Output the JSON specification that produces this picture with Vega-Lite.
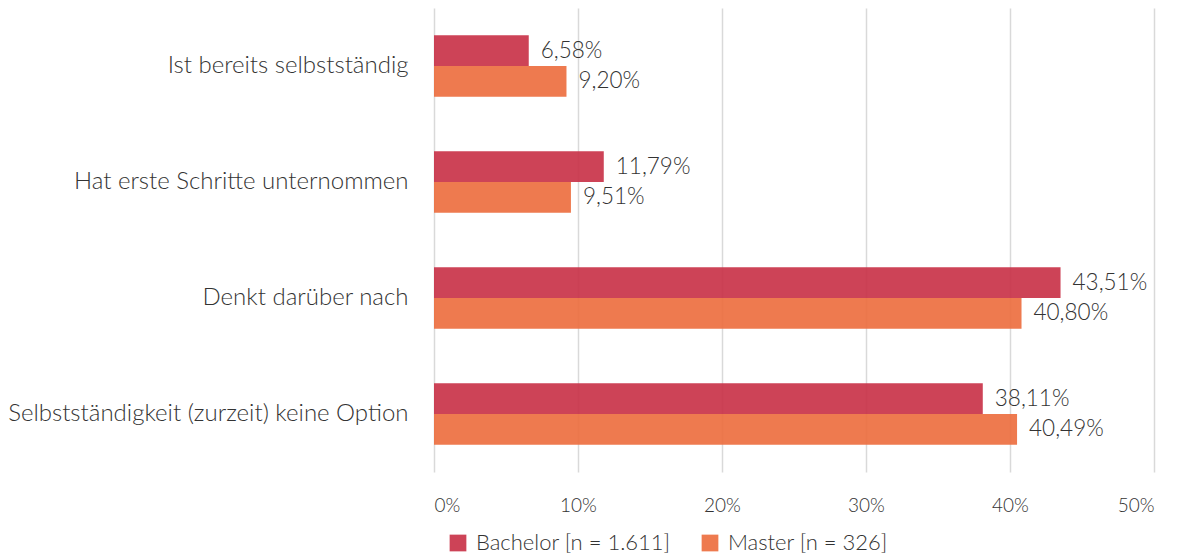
{
  "$schema": "https://vega.github.io/schema/vega-lite/v6.json",
  "width": 720,
  "height": 464,
  "autosize": "none",
  "padding": {"left": 434, "top": 8, "right": 26, "bottom": 85},
  "background": "white",
  "data": {
    "values": [
      {"cat": "Ist bereits selbstständig", "group": "Bachelor [n = 1.611]", "value": 6.58, "label": "6,58%"},
      {"cat": "Ist bereits selbstständig", "group": "Master [n = 326]", "value": 9.20, "label": "9,20%"},
      {"cat": "Hat erste Schritte unternommen", "group": "Bachelor [n = 1.611]", "value": 11.79, "label": "11,79%"},
      {"cat": "Hat erste Schritte unternommen", "group": "Master [n = 326]", "value": 9.51, "label": "9,51%"},
      {"cat": "Denkt darüber nach", "group": "Bachelor [n = 1.611]", "value": 43.51, "label": "43,51%"},
      {"cat": "Denkt darüber nach", "group": "Master [n = 326]", "value": 40.80, "label": "40,80%"},
      {"cat": "Selbstständigkeit (zurzeit) keine Option", "group": "Bachelor [n = 1.611]", "value": 38.11, "label": "38,11%"},
      {"cat": "Selbstständigkeit (zurzeit) keine Option", "group": "Master [n = 326]", "value": 40.49, "label": "40,49%"}
    ]
  },
  "encoding": {
    "y": {
      "field": "cat", "type": "nominal", "sort": null,
      "scale": {"paddingInner": 0.47, "paddingOuter": 0.235},
      "axis": {"title": null, "domain": false, "ticks": false, "labelPadding": 26, "labelLimit": 450, "labelFontSize": 24, "labelFontWeight": 300, "labelColor": "#333333", "labelFont": "Lato"}
    },
    "yOffset": {"field": "group", "type": "nominal", "sort": null},
    "x": {
      "field": "value", "type": "quantitative",
      "scale": {"domain": [0, 50]},
      "axis": {"title": null, "domain": false, "ticks": false, "values": [0, 10, 20, 30, 40, 50], "labelOverlap": false, "labelBound": false, "labelExpr": "datum.value + '%'", "labelPadding": 24, "labelFontSize": 19, "labelFontWeight": 300, "labelColor": "#333333", "labelFont": "Lato", "gridColor": "#d9d9d9", "gridWidth": 1.5}
    }
  },
  "layer": [
    {
      "mark": {"type": "bar", "opacity": 0.9},
      "encoding": {
        "color": {
          "field": "group", "type": "nominal", "sort": null,
          "scale": {"range": ["#c82f45", "#ec6c3c"]},
          "legend": {"title": null, "orient": "none", "legendX": 13, "legendY": 524, "direction": "horizontal", "symbolType": "square", "symbolSize": 280, "symbolOpacity": 0.9, "labelFontSize": 22, "labelFontWeight": 300, "labelLimit": 400, "labelColor": "#333333", "labelFont": "Lato", "columnPadding": 28, "labelOffset": 7}
        }
      }
    },
    {
      "mark": {"type": "text", "align": "left", "baseline": "middle", "dx": 12, "fontSize": 22.5, "fontWeight": 300, "color": "#333333", "font": "Lato"},
      "encoding": {"text": {"field": "label"}}
    }
  ],
  "config": {"view": {"stroke": null}}
}
